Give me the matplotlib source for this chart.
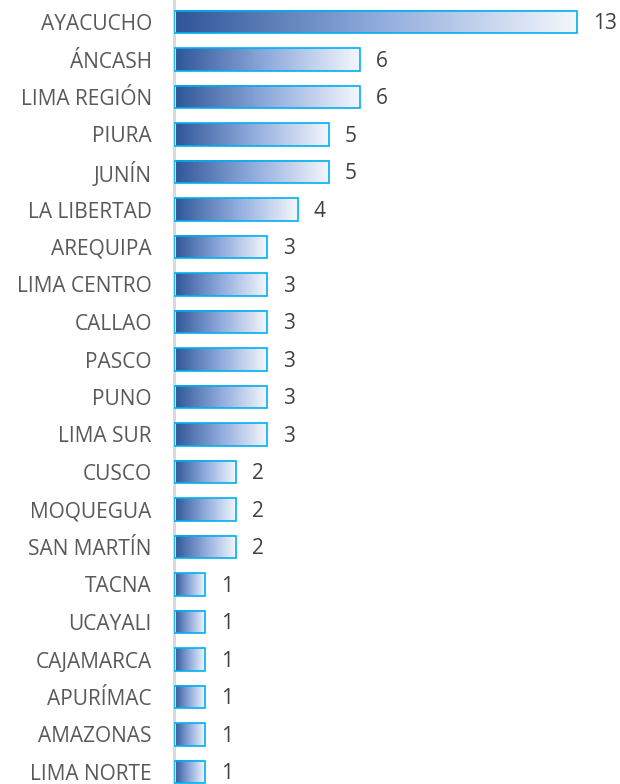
import matplotlib
matplotlib.use("Agg")
import matplotlib.pyplot as plt
import numpy as np
from matplotlib.colors import LinearSegmentedColormap
from matplotlib.patches import Rectangle

categories = ["AYACUCHO", "ÁNCASH", "LIMA REGIÓN", "PIURA", "JUNÍN", "LA LIBERTAD",
              "AREQUIPA", "LIMA CENTRO", "CALLAO", "PASCO", "PUNO", "LIMA SUR",
              "CUSCO", "MOQUEGUA", "SAN MARTÍN", "TACNA", "UCAYALI", "CAJAMARCA",
              "APURÍMAC", "AMAZONAS", "LIMA NORTE"]
values = [13, 6, 6, 5, 5, 4, 3, 3, 3, 3, 3, 3, 2, 2, 2, 1, 1, 1, 1, 1, 1]

plt.rcParams['font.family'] = ['Open Sans', 'DejaVu Sans']

W, H = 620, 784
fig = plt.figure(figsize=(W / 100, H / 100), dpi=100)
left_px, right_px = 174, 620
ax = fig.add_axes([left_px / W, 0, (right_px - left_px) / W, 1])

px_per_unit = 31.0
spacing = 37.5
first = 22

cmap = LinearSegmentedColormap.from_list(
    "g", ["#2F5597", "#8FAADC", "#F4F7FC"])
grad = np.linspace(0, 1, 256).reshape(1, -1)
h = 0.6
for i, v in enumerate(values):
    ax.imshow(grad, cmap=cmap, aspect="auto", extent=(0, v, i + h / 2, i - h / 2),
              interpolation="bilinear", zorder=2)
    ax.add_patch(Rectangle((0, i - h / 2), v, h, facecolor="none",
                           edgecolor="#00B0F0", linewidth=1.2, zorder=3))
    ax.text(v + 16 / px_per_unit, i + 0.05, str(v), va="center", ha="left",
            fontsize=15, color="#404040")

ax.set_xlim(0, (right_px - left_px) / px_per_unit)
ax.set_ylim((H - first) / spacing, -first / spacing)
ax.set_yticks(range(len(categories)))
ax.set_yticklabels(categories, fontsize=15, color="#595959")
ax.tick_params(axis="y", length=0, pad=16)
ax.set_xticks([])
for s in ["top", "right", "bottom"]:
    ax.spines[s].set_visible(False)
ax.spines["left"].set_color("#D9D9D9")
ax.spines["left"].set_linewidth(2.2)
ax.set_facecolor("none")

fig.savefig("out.png", dpi=100)
